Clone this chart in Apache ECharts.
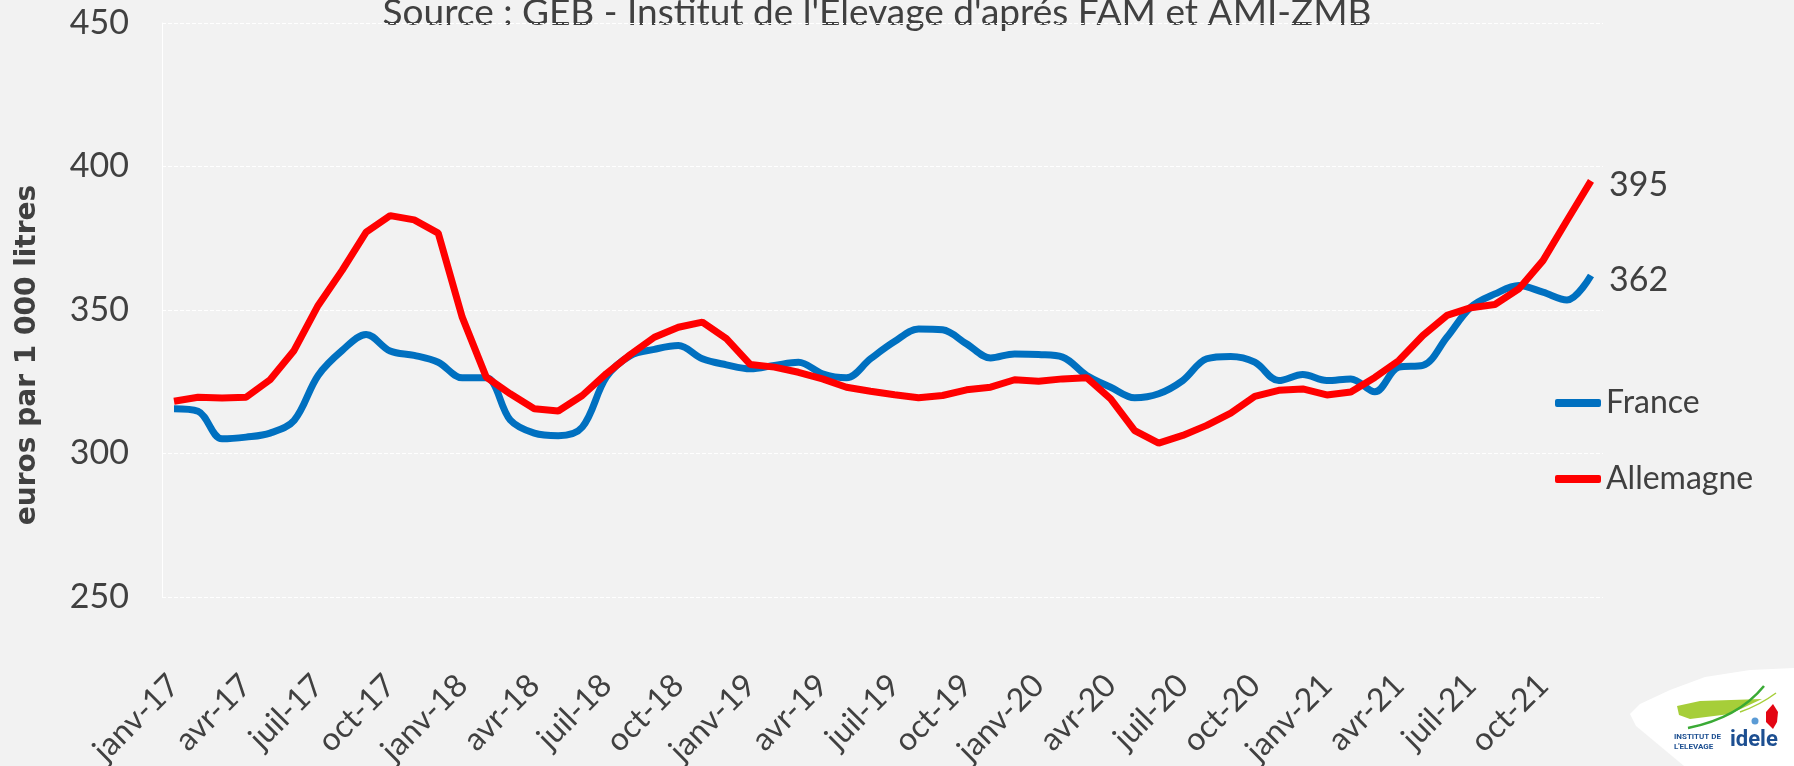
<!DOCTYPE html>
<html>
<head>
<meta charset="utf-8">
<title>Prix du lait France / Allemagne</title>
<script src="https://cdn.jsdelivr.net/npm/echarts@6/dist/echarts.min.js"></script>
<style>
  html, body { margin: 0; padding: 0; background: #f2f2f2; }
  #prix-lait { width: 1794px; height: 766px; }
</style>
</head>
<body>
<div id="prix-lait"></div>
<script>
// donnees : prix mensuel du lait, janv-17 a dec-21
var nomsMois = ['janv', 'févr', 'mars', 'avr', 'mai', 'juin', 'juil', 'août', 'sept', 'oct', 'nov', 'déc'];
var annees = ['17', '18', '19', '20', '21'];
var mois = [];
annees.forEach(function(a) {
  nomsMois.forEach(function(m) {
    mois.push(m + '-' + a);
  });
});

var prixFrance = [315.6, 314.7, 305.1, 305.7, 307.1, 311.5, 327.2, 335.9, 341.5, 335.7, 334.2, 331.8,
  326.4, 326.4, 311.7, 307.1, 306.2, 309.2, 326.6, 334.1, 336.3, 337.6, 333.0, 330.9,
  329.5, 330.7, 331.8, 327.8, 326.4, 333.0, 339.0, 343.4, 343.1, 338.2, 333.3, 334.7,
  334.5, 333.6, 327.2, 323.1, 319.4, 320.8, 325.4, 333.0, 333.8, 331.8, 325.4, 327.5,
  325.4, 326.0, 321.5, 330.1, 330.7, 340.5, 351.0, 355.6, 358.5, 356.2, 353.5, 362];

var prixAllemagne = [318.2, 319.6, 319.3, 319.6, 325.7, 335.9, 351.6, 363.8, 377.1, 382.9, 381.4, 376.8,
  347.5, 326.6, 320.8, 315.6, 314.8, 320.2, 327.8, 334.5, 340.5, 344.0, 345.8, 340.0,
  331.0, 330.1, 328.3, 326.0, 323.1, 321.7, 320.5, 319.4, 320.2, 322.2, 323.1, 325.7,
  325.2, 326.0, 326.4, 319.0, 308.0, 303.6, 306.3, 309.8, 314.1, 319.9, 322.0, 322.5,
  320.4, 321.4, 326.5, 332.4, 341.1, 348.1, 350.8, 351.9, 357.4, 367.2, 381.2, 395];

// axe y : 250 -> 450 par pas de 50
var yMin = 250, yMax = 450, yPas = 50;

var gris = '#404040';
var police = 'Lato, "Open Sans", sans-serif';

var chart = echarts.init(document.getElementById('prix-lait'));
chart.setOption({
  backgroundColor: '#f2f2f2',
  animation: false,
  grid: {
    left: 162,
    right: 191,
    top: 23,
    bottom: 169,
    outerBoundsMode: 'none' // les etiquettes debordent en bas comme sur l'original
  },
  legend: {
    orient: 'vertical',
    left: 1550,
    top: 378,
    itemWidth: 46,
    itemHeight: 8,
    itemGap: 36,
    icon: 'roundRect',
    textStyle: {
      fontSize: 32,
      lineHeight: 40,
      color: gris,
      fontFamily: police
    },
    data: ['France', 'Allemagne']
  },
  xAxis: {
    type: 'category',
    data: mois,
    boundaryGap: true,
    axisLine: { show: false },
    axisTick: { show: false },
    axisLabel: {
      interval: 2,
      rotate: 45,
      margin: 83,
      fontSize: 32,
      color: gris,
      fontFamily: police
    }
  },
  yAxis: {
    type: 'value',
    min: yMin,
    max: yMax,
    interval: yPas,
    axisLine: { show: true, lineStyle: { color: '#ffffff', width: 1 } },
    axisTick: { show: false },
    splitLine: { lineStyle: { color: '#ffffff', type: [4, 2], width: 1 } },
    axisLabel: {
      fontSize: 34,
      margin: 33,
      color: gris,
      fontFamily: police
    }
  },
  series: [{
    name: 'France',
    type: 'line',
    data: prixFrance,
    smooth: 0.35,
    symbol: 'none',
    lineStyle: { color: '#0070c0', width: 7 },
    itemStyle: { color: '#0070c0' },
    endLabel: {
      show: true,
      distance: 18,
      offset: [0, 4],
      fontSize: 34,
      color: gris,
      fontFamily: police,
      formatter: function(p) { return Math.round(p.value); }
    }
  }, {
    name: 'Allemagne',
    type: 'line',
    data: prixAllemagne,
    symbol: 'none',
    lineStyle: { color: '#ff0000', width: 7 },
    itemStyle: { color: '#ff0000' },
    endLabel: {
      show: true,
      distance: 18,
      offset: [0, 4],
      fontSize: 34,
      color: gris,
      fontFamily: police,
      formatter: function(p) { return Math.round(p.value); }
    }
  }],
  graphic: [{
    // source, coupee en haut comme sur l'original
    type: 'text',
    x: 877,
    y: 32,
    style: {
      text: "Source : GEB - Institut de l'Elevage d'aprés FAM et AMI-ZMB",
      font: '37px ' + police,
      fill: gris,
      align: 'center',
      verticalAlign: 'bottom'
    }
  }, {
    type: 'text',
    x: 28,
    y: 355,
    rotation: Math.PI / 2,
    style: {
      text: 'euros par 1 000 litres',
      font: 'bold 28px "DejaVu Sans", sans-serif',
      fill: gris,
      align: 'center',
      verticalAlign: 'middle'
    }
  },
  // logo idele
  {
    type: 'polygon',
    shape: {
      points: [[1684, 766], [1636, 726], [1630, 714], [1640, 704], [1670, 690], [1705, 677],
        [1750, 670], [1794, 668], [1794, 766]]
    },
    style: { fill: '#ffffff' }
  }, {
    type: 'polygon',
    shape: {
      points: [[1677, 706], [1700, 701], [1762, 699], [1730, 714], [1690, 719], [1679, 715]]
    },
    style: { fill: '#a6ce39' }
  }, {
    type: 'bezierCurve',
    shape: { x1: 1688, y1: 728, cpx1: 1738, cpy1: 718, x2: 1764, y2: 686 },
    style: { stroke: '#3aaa35', lineWidth: 2.5, fill: null }
  }, {
    type: 'bezierCurve',
    shape: { x1: 1740, y1: 712, cpx1: 1760, cpy1: 705, x2: 1776, y2: 693 },
    style: { stroke: '#a6ce39', lineWidth: 1.5, fill: null }
  }, {
    type: 'polygon',
    shape: {
      points: [[1773, 704], [1778, 712], [1777, 722], [1773, 729], [1766, 722], [1766, 712]]
    },
    style: { fill: '#e30613' }
  }, {
    type: 'circle',
    shape: { cx: 1755, cy: 721, r: 3.5 },
    style: { fill: '#5b9bd5' }
  }, {
    type: 'text',
    x: 1674,
    y: 733,
    style: { text: 'INSTITUT DE', font: 'bold 8px Roboto, sans-serif', fill: '#1d4f91' }
  }, {
    type: 'text',
    x: 1674,
    y: 743,
    style: { text: "L'ELEVAGE", font: 'bold 8px Roboto, sans-serif', fill: '#1d4f91' }
  }, {
    type: 'text',
    x: 1730,
    y: 729,
    style: { text: 'idele', font: 'bold 22px Roboto, sans-serif', fill: '#1d4f91' }
  }]
});
</script>
</body>
</html>
